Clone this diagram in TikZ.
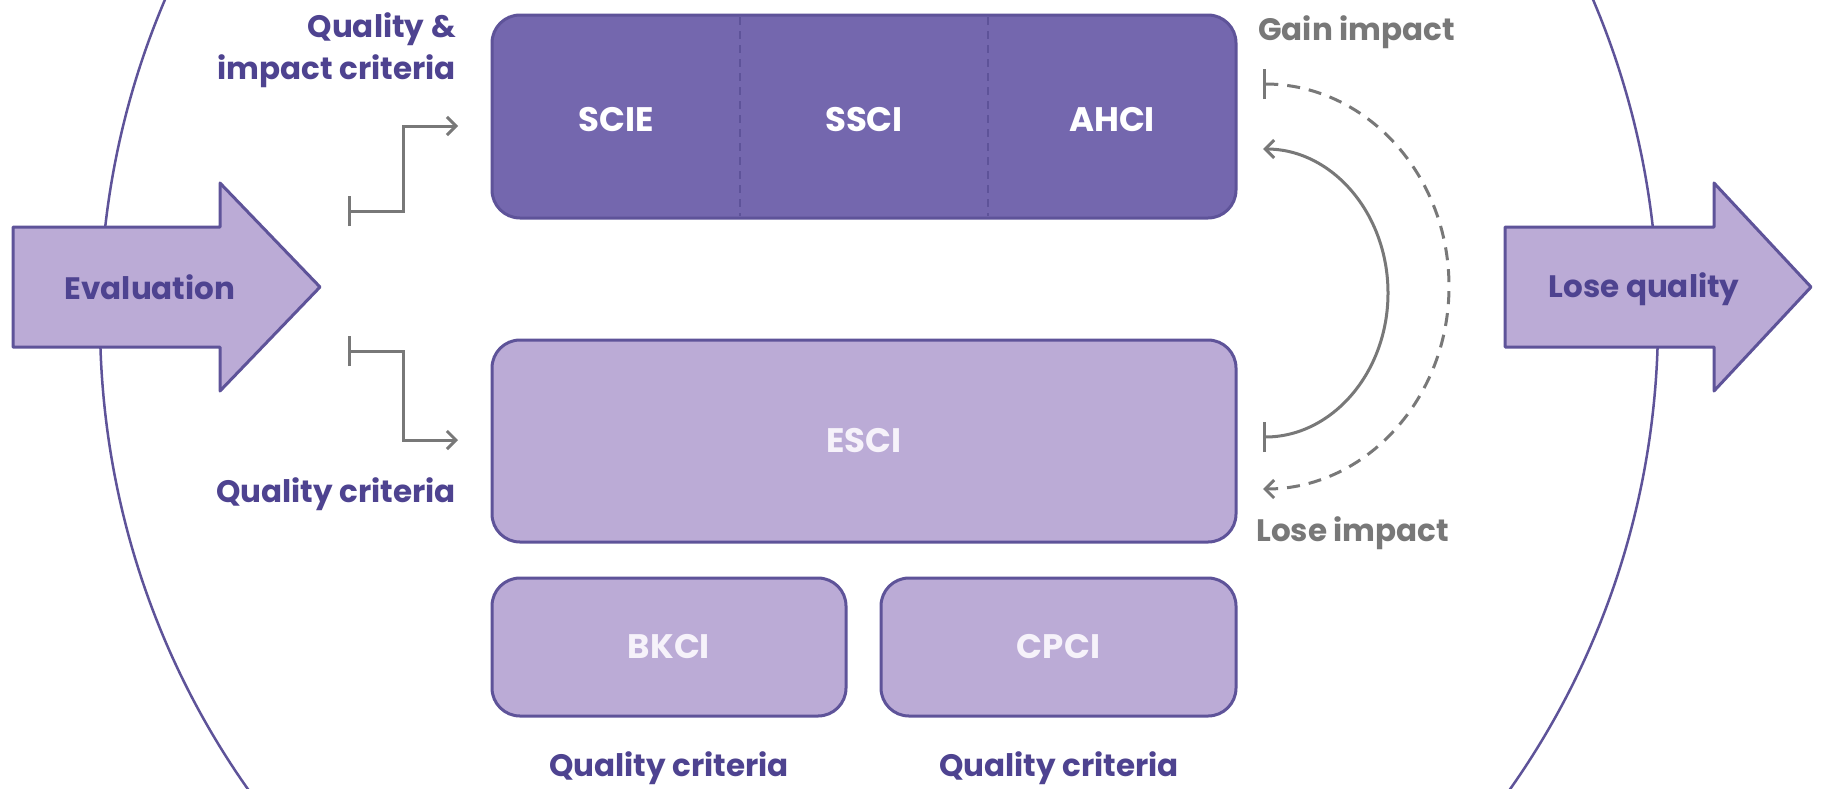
\documentclass[tikz,border=0pt]{standalone}
\usepackage{fontspec}
\setmainfont{Poppins}
\usetikzlibrary{arrows.meta}
\definecolor{darkfill}{HTML}{7467AE}
\definecolor{lightfill}{HTML}{BBABD6}
\definecolor{edge}{HTML}{5E5399}
\definecolor{labelc}{HTML}{4E4390}
\definecolor{greyc}{HTML}{787878}
\definecolor{boxtext}{HTML}{F6F2FA}
\tikzset{
  darkbox/.style={draw=edge, line width=3, fill=darkfill, rounded corners=28, inner sep=0},
  lightbox/.style={draw=edge, line width=3, fill=lightfill, rounded corners=28, inner sep=0, text=boxtext, font=\fontsize{34}{38}\selectfont\bfseries},
  boxlabel/.style={text=white, font=\fontsize{34}{38}\selectfont\bfseries, inner sep=0},
  crit/.style={text=labelc, font=\fontsize{31}{42}\selectfont\bfseries, inner sep=0},
  side/.style={text=greyc, font=\fontsize{31}{36}\selectfont\bfseries, inner sep=0},
  bigarrow/.style={draw=edge, line width=3, fill=lightfill, line join=round},
  arrowtext/.style={text=labelc, font=\fontsize{31}{36}\selectfont\bfseries, inner sep=0},
  conn/.style={draw=greyc, line width=3, {Bar[width=30,line width=3]}-{Straight Barb[length=9,width=18,line width=3]}},
  divider/.style={draw=edge, line width=1.3, dash pattern=on 8 off 6},
}
\begin{document}
\begin{tikzpicture}[x=1pt,y=-1pt]
\useasboundingbox (0,0) rectangle (1825,788);
\clip (0,0) rectangle (1825,788);
\fill[white] (0,0) rectangle (1825,788);
% big ellipse
\draw[edge, line width=2.5] (879,320) ellipse[x radius=779, y radius=800];
% side arrows
\draw[bigarrow] (13,227) -- (220,227) -- (220,183) -- (320,287) -- (220,391) -- (220,347) -- (13,347) -- cycle;
\node[arrowtext] (eval) at (150,287) {Evaluation};
\draw[bigarrow] (1505,227) -- (1714,227) -- (1714,183) -- (1811,287) -- (1714,391) -- (1714,347) -- (1505,347) -- cycle;
\node[arrowtext] (lose) at (1644,289) {Lose quality};
% top box
\node[darkbox, minimum width=744, minimum height=203] (top) at (864,116.5) {};
\draw[divider] (740,17) -- (740,216);
\draw[divider] (988,17) -- (988,216);
\node[boxlabel] (scie) at (616,120) {SCIE};
\node[boxlabel] (ssci) at (864,120) {SSCI};
\node[boxlabel] (ahci) at (1112,120) {AHCI};
% lower boxes
\node[lightbox, minimum width=744, minimum height=202] (esci) at (864,441) {ESCI};
\node[lightbox, minimum width=354, minimum height=138] (bkci) at (669,647) {BKCI};
\node[lightbox, minimum width=355, minimum height=138] (cpci) at (1058.5,647) {CPCI};
% criteria labels
\node[crit, anchor=east, align=right] (qi) at (456,50) {Quality \&\\impact criteria};
\node[crit, anchor=east] (qe) at (456,494) {Quality criteria};
\node[crit] (qb) at (669,768) {Quality criteria};
\node[crit] (qc) at (1059,768) {Quality criteria};
% bracket connectors
\coordinate (t1) at (348,211);
\coordinate (a1) at (458,126);
\coordinate (t2) at (348,351);
\coordinate (a2) at (458,440);
\draw[conn] (t1) -- ++(55,0) |- (a1);
\draw[conn] (t2) -- ++(55,0) |- (a2);
% right side
\node[side, anchor=west] (gain) at (1258,32) {Gain impact};
\node[side, anchor=west] (loseimp) at (1256,533) {Lose impact};
\coordinate (s1) at (1263,437);
\coordinate (d1) at (1263,84);
\draw[conn] (s1) arc[start angle=90, end angle=-90, x radius=125, y radius=144];
\draw[conn, dash pattern=on 13 off 9] (d1) arc[start angle=-90, end angle=90, x radius=186, y radius=202.5];
\end{tikzpicture}
\end{document}
